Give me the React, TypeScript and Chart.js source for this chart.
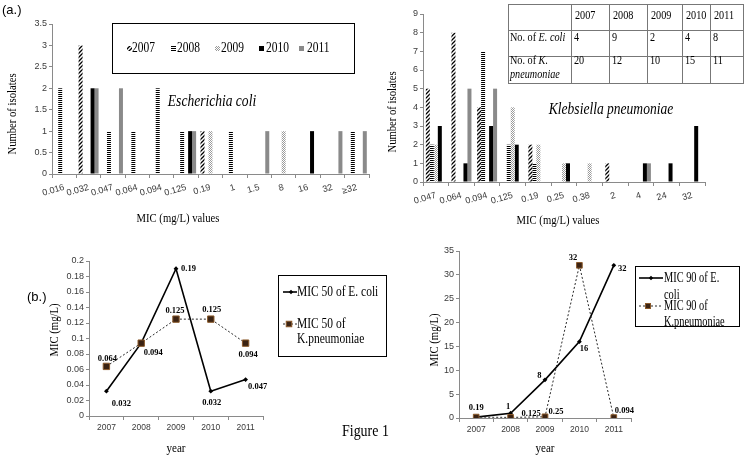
import React, { useEffect, useRef } from 'react';
import { Chart, registerables } from 'chart.js';

Chart.register(...registerables);

// ---------------- data ----------------
const years = ['2007', '2008', '2009', '2010', '2011'];

const ecoliMic = ['0.016', '0.032', '0.047', '0.064', '0.094', '0.125', '0.19', '1', '1.5', '8', '16', '32', '≥32'];
const ecoli2007 = [0, 3, 0, 0, 0, 0, 1, 0, 0, 0, 0, 0, 0];
const ecoli2008 = [2, 0, 1, 1, 2, 1, 0, 1, 0, 0, 0, 0, 1];
const ecoli2009 = [0, 0, 0, 0, 0, 0, 1, 0, 0, 1, 0, 0, 0];
const ecoli2010 = [0, 2, 0, 0, 0, 1, 0, 0, 0, 0, 1, 0, 0];
const ecoli2011 = [0, 2, 2, 0, 0, 1, 0, 0, 1, 0, 0, 1, 1];

const kpMic = ['0.047', '0.064', '0.094', '0.125', '0.19', '0.25', '0.38', '2', '4', '24', '32'];
const kp2007 = [5, 8, 4, 0, 2, 0, 0, 1, 0, 0, 0];
const kp2008 = [2, 0, 7, 2, 1, 0, 0, 0, 0, 0, 0];
const kp2009 = [2, 0, 0, 4, 2, 1, 1, 0, 0, 0, 0];
const kp2010 = [3, 1, 3, 2, 0, 1, 0, 0, 1, 1, 3];
const kp2011 = [0, 5, 5, 0, 0, 0, 0, 0, 1, 0, 0];

const ecoliCounts = [4, 9, 2, 4, 8];
const kpCounts = [20, 12, 10, 15, 11];

const mic50Ecoli = [0.032, 0.094, 0.19, 0.032, 0.047];
const mic50Kp = [0.064, 0.094, 0.125, 0.125, 0.094];
const mic90Ecoli = [0.19, 1, 8, 16, 32];
const mic90Kp = [0.19, 0.125, 0.25, 32, 0.094];

// label placement (pixel offsets from the point), null = no label
const mic50EcoliLabelPos: ([number, number] | null)[] = [[15, 13], [12, 10], [12.5, 0], [1, 12], [12, 7]];
const mic50KpLabelPos: ([number, number] | null)[] = [[1, -8], null, [-1, -8], [1, -9], [2.5, 12]];
const mic90EcoliLabelPos: ([number, number] | null)[] = [[0, -9.5], [-2.5, -6.5], [-5.7, -3.8], [4.6, 7.3], [8.5, 3]];
const mic90KpLabelPos: ([number, number] | null)[] = [null, [20.5, -3.4], [11, -5], [-6.4, -8], [10.6, -6.6]];

// ---------------- style ----------------
const W = 747;
const H = 456;
const SERIF = '"Liberation Serif", "Times New Roman", serif';
const SANS = '"Liberation Sans", Arial, sans-serif';
const AXIS = '#8a8a8a';
const TICK = '#3a3a3a';
const SQ = 0.82;

type TxtOpt = {
  size: number; weight?: string; style?: string; family?: string;
  align?: CanvasTextAlign; rot?: number; sx?: number; color?: string;
};

function txt(ctx: CanvasRenderingContext2D, s: string, x: number, y: number, o: TxtOpt) {
  ctx.save();
  ctx.translate(x, y);
  if (o.rot) ctx.rotate(o.rot);
  ctx.scale(o.sx ?? 1, 1);
  ctx.font = `${o.style || 'normal'} ${o.weight || 'normal'} ${o.size}px ${o.family || SERIF}`;
  ctx.fillStyle = o.color || '#000';
  ctx.textAlign = o.align || 'center';
  ctx.textBaseline = 'middle';
  ctx.fillText(s, 0, 0);
  ctx.restore();
}

function txtWidth(ctx: CanvasRenderingContext2D, s: string, o: TxtOpt) {
  ctx.save();
  ctx.font = `${o.style || 'normal'} ${o.weight || 'normal'} ${o.size}px ${o.family || SERIF}`;
  const w = ctx.measureText(s).width * (o.sx ?? 1);
  ctx.restore();
  return w;
}

function makePatterns() {
  const mk = (w: number, h: number, draw: (g: CanvasRenderingContext2D) => void) => {
    const c = document.createElement('canvas');
    c.width = w; c.height = h;
    const g = c.getContext('2d')!;
    draw(g);
    return g.createPattern(c, 'repeat')!;
  };
  const p2007 = mk(4, 4, (g) => {
    g.fillStyle = '#fff'; g.fillRect(0, 0, 4, 4);
    g.strokeStyle = '#000'; g.lineWidth = 1.3;
    g.beginPath();
    g.moveTo(0, 4); g.lineTo(4, 0);
    g.moveTo(-1, 1); g.lineTo(1, -1);
    g.moveTo(3, 5); g.lineTo(5, 3);
    g.stroke();
  });
  const p2008 = mk(4, 2, (g) => {
    g.fillStyle = '#fff'; g.fillRect(0, 0, 4, 2);
    g.fillStyle = '#000'; g.fillRect(0, 0, 4, 1);
  });
  const p2009 = mk(2, 2, (g) => {
    g.fillStyle = '#fff'; g.fillRect(0, 0, 2, 2);
    g.fillStyle = '#9a9a9a'; g.fillRect(0, 0, 1, 1); g.fillRect(1, 1, 1, 1);
  });
  return [p2007, p2008, p2009, '#000000', '#8a8a8a'] as (CanvasPattern | string)[];
}

type Area = { left: number; top: number; right: number; bottom: number };

const fmt = (v: any) => String(+(+v).toFixed(3));

function scaleBase(area: Area) {
  return {
    x: {
      offset: true,
      grid: { display: true, drawOnChartArea: false, drawTicks: true, tickLength: 4, color: AXIS, offset: true },
      border: { display: true, color: AXIS, width: 1 },
      afterFit: (s: any) => { s.height = H - area.bottom; },
    },
    y: {
      grid: { display: true, drawOnChartArea: false, drawTicks: true, tickLength: 3, color: AXIS },
      border: { display: true, color: AXIS, width: 1 },
      afterFit: (s: any) => { s.width = area.left; },
    },
  };
}

function barConfig(labels: string[], series: number[][], fills: any[], area: Area, yMax: number, yStep: number,
  catPct: number, overlay: any) {
  const base = scaleBase(area);
  return {
    type: 'bar',
    data: {
      labels,
      datasets: series.map((d, i) => ({
        label: years[i], data: d, backgroundColor: fills[i], borderWidth: 0,
        categoryPercentage: catPct, barPercentage: 1,
      })),
    },
    options: {
      responsive: false, animation: false, events: [],
      layout: { padding: { left: 0, top: area.top, right: W - area.right, bottom: 0 } },
      plugins: { legend: { display: false }, tooltip: { enabled: false }, title: { display: false } },
      scales: {
        x: {
          ...base.x,
          ticks: { autoSkip: false, minRotation: 16, maxRotation: 16, padding: 4, color: TICK, font: { family: SANS, size: 9 } },
        },
        y: {
          ...base.y, min: 0, max: yMax,
          ticks: { stepSize: yStep, padding: 2, color: TICK, font: { family: SANS, size: 9 }, callback: fmt },
        },
      },
    },
    plugins: [overlay],
  } as any;
}

function lineConfig(eco: number[], kp: number[], ecoLabel: string, kpLabel: string, area: Area, yMax: number, yStep: number,
  kpRadius: number, overlay: any) {
  const base = scaleBase(area);
  return {
    type: 'line',
    data: {
      labels: years,
      datasets: [
        {
          label: ecoLabel, data: eco, borderColor: '#000', borderWidth: 1.6, tension: 0,
          pointStyle: 'rectRot', pointRadius: 2.4, pointBackgroundColor: '#000', pointBorderWidth: 0, order: 1,
        },
        {
          label: kpLabel, data: kp, borderColor: '#2a2a2a', borderWidth: 1, borderDash: [2, 2], tension: 0,
          pointStyle: 'rect', pointRadius: kpRadius, pointBackgroundColor: '#3b2313', pointBorderColor: '#8b5a2b',
          pointBorderWidth: 1, order: 0,
        },
      ],
    },
    options: {
      responsive: false, animation: false, events: [],
      layout: { padding: { left: 0, top: area.top, right: W - area.right, bottom: 0 } },
      plugins: { legend: { display: false }, tooltip: { enabled: false }, title: { display: false } },
      scales: {
        x: {
          ...base.x,
          ticks: { autoSkip: false, maxRotation: 0, padding: 3, color: TICK, font: { family: SANS, size: 8.5 } },
        },
        y: {
          ...base.y, min: 0, max: yMax,
          ticks: { stepSize: yStep, padding: 2, color: TICK, font: { family: SANS, size: 9 }, callback: fmt },
        },
      },
    },
    plugins: [overlay],
  } as any;
}

function drawDataLabels(chart: any, pos: ([number, number] | null)[][]) {
  const ctx = chart.ctx as CanvasRenderingContext2D;
  chart.data.datasets.forEach((ds: any, i: number) => {
    const meta = chart.getDatasetMeta(i);
    meta.data.forEach((el: any, j: number) => {
      const p = pos[i][j];
      if (!p) return;
      txt(ctx, String(ds.data[j]), el.x + p[0], el.y + p[1], { size: 8.5, weight: 'bold' });
    });
  });
}

function legendDiamond(ctx: CanvasRenderingContext2D, x: number, y: number, r: number) {
  ctx.beginPath();
  ctx.moveTo(x, y - r); ctx.lineTo(x + r, y); ctx.lineTo(x, y + r); ctx.lineTo(x - r, y); ctx.closePath();
  ctx.fillStyle = '#000'; ctx.fill();
}
function legendSquare(ctx: CanvasRenderingContext2D, x: number, y: number, s: number) {
  ctx.fillStyle = '#3b2313'; ctx.fillRect(x - s / 2, y - s / 2, s, s);
  ctx.strokeStyle = '#8b5a2b'; ctx.lineWidth = 1; ctx.strokeRect(x - s / 2, y - s / 2, s, s);
}
function legendLine(ctx: CanvasRenderingContext2D, x1: number, x2: number, y: number, dashed: boolean) {
  ctx.save();
  ctx.strokeStyle = dashed ? '#2a2a2a' : '#000';
  ctx.lineWidth = dashed ? 1 : 1.6;
  ctx.setLineDash(dashed ? [2, 2] : []);
  ctx.beginPath(); ctx.moveTo(x1, y); ctx.lineTo(x2, y); ctx.stroke();
  ctx.restore();
}

// ---------------- charts ----------------
const areaEcoli: Area = { left: 52, top: 24, right: 369, bottom: 174 };
const areaKp: Area = { left: 423, top: 14, right: 705, bottom: 182 };
const areaMic50: Area = { left: 89, top: 261, right: 263, bottom: 416 };
const areaMic90: Area = { left: 459, top: 251, right: 631, bottom: 418 };

export default function App() {
  const r1 = useRef<HTMLCanvasElement>(null);
  const r2 = useRef<HTMLCanvasElement>(null);
  const r3 = useRef<HTMLCanvasElement>(null);
  const r4 = useRef<HTMLCanvasElement>(null);

  useEffect(() => {
    document.body.style.margin = '0';
    const fills = makePatterns();

    const ov1 = {
      id: 'ovEcoli',
      afterDraw(chart: any) {
        const ctx = chart.ctx as CanvasRenderingContext2D;
        txt(ctx, '(a.)', 2, 10, { size: 13, family: SANS, align: 'left' });
        txt(ctx, 'Number of isolates', 13, 114, { size: 13, rot: -Math.PI / 2, sx: SQ });
        txt(ctx, 'MIC (mg/L) values', 178, 219, { size: 13, sx: SQ });
        txt(ctx, 'Escherichia coli', 212, 102, { size: 16.5, style: 'italic', sx: SQ });
        ctx.save();
        ctx.strokeStyle = '#000'; ctx.lineWidth = 1;
        ctx.strokeRect(112.5, 23.5, 242, 50);
        const sw = [127, 171, 215, 259, 299];
        const tx = [132, 177, 221, 266, 307];
        chart.data.datasets.forEach((ds: any, i: number) => {
          ctx.fillStyle = ds.backgroundColor;
          ctx.fillRect(sw[i], 46, 5, 5);
          txt(ctx, ds.label, tx[i], 48.5, { size: 14, align: 'left', sx: SQ });
        });
        ctx.restore();
      },
    };

    const ov2 = {
      id: 'ovKp',
      afterDraw(chart: any) {
        const ctx = chart.ctx as CanvasRenderingContext2D;
        txt(ctx, 'Number of isolates', 393, 112, { size: 13, rot: -Math.PI / 2, sx: SQ });
        txt(ctx, 'MIC (mg/L) values', 558, 221, { size: 13, sx: SQ });
        txt(ctx, 'Klebsiella pneumoniae', 611, 110, { size: 16.5, style: 'italic', sx: SQ });
        // table
        const cols = [508, 571, 609, 647, 682, 710, 743];
        const rows = [4, 30, 56, 83];
        ctx.save();
        ctx.strokeStyle = '#777'; ctx.lineWidth = 1;
        ctx.beginPath();
        cols.forEach((c) => { ctx.moveTo(c + 0.5, rows[0]); ctx.lineTo(c + 0.5, rows[3] + 0.5); });
        rows.forEach((r) => { ctx.moveTo(cols[0], r + 0.5); ctx.lineTo(cols[6] + 1, r + 0.5); });
        ctx.stroke();
        ctx.restore();
        const f: TxtOpt = { size: 12, align: 'left', sx: 0.85 };
        const fi: TxtOpt = { ...f, style: 'italic' };
        years.forEach((y, i) => txt(ctx, y, cols[i + 1] + 4, 16, f));
        txt(ctx, 'No. of ', 510, 38, f);
        txt(ctx, 'E. coli', 510 + txtWidth(ctx, 'No. of ', f), 38, fi);
        txt(ctx, 'No. of ', 510, 61, f);
        txt(ctx, 'K.', 510 + txtWidth(ctx, 'No. of ', f), 61, fi);
        txt(ctx, 'pneumoniae', 510, 75, fi);
        ecoliCounts.forEach((v, i) => txt(ctx, String(v), cols[i + 1] + 3, 38, f));
        kpCounts.forEach((v, i) => txt(ctx, String(v), cols[i + 1] + 3, 61, f));
      },
    };

    const ov3 = {
      id: 'ovMic50',
      afterDraw(chart: any) {
        const ctx = chart.ctx as CanvasRenderingContext2D;
        txt(ctx, '(b.)', 27, 297, { size: 13, family: SANS, align: 'left' });
        txt(ctx, 'MIC (mg/L)', 55, 330, { size: 13, rot: -Math.PI / 2, sx: SQ });
        txt(ctx, 'year', 176, 448, { size: 13.5, sx: SQ });
        txt(ctx, 'Figure 1', 342, 432, { size: 17, align: 'left', sx: SQ });
        drawDataLabels(chart, [mic50EcoliLabelPos, mic50KpLabelPos]);
        ctx.save();
        ctx.strokeStyle = '#000'; ctx.lineWidth = 1;
        ctx.strokeRect(278.5, 275.5, 108, 81);
        ctx.restore();
        const lf: TxtOpt = { size: 14, align: 'left', sx: SQ };
        legendLine(ctx, 283, 297, 292, false);
        legendDiamond(ctx, 291, 292, 2.2);
        txt(ctx, chart.data.datasets[0].label, 297, 292, lf);
        legendLine(ctx, 283, 297, 324, true);
        legendSquare(ctx, 289, 324, 5.5);
        const kl = String(chart.data.datasets[1].label).split('\n');
        kl.forEach((s, i) => txt(ctx, s, 297, 324 + i * 15, lf));
      },
    };

    const ov4 = {
      id: 'ovMic90',
      afterDraw(chart: any) {
        const ctx = chart.ctx as CanvasRenderingContext2D;
        txt(ctx, 'MIC (mg/L)', 435, 340, { size: 13, rot: -Math.PI / 2, sx: SQ });
        txt(ctx, 'year', 545, 448, { size: 13.5, sx: SQ });
        drawDataLabels(chart, [mic90EcoliLabelPos, mic90KpLabelPos]);
        ctx.save();
        ctx.strokeStyle = '#000'; ctx.lineWidth = 1;
        ctx.strokeRect(635.5, 266.5, 104, 60);
        ctx.restore();
        const lf: TxtOpt = { size: 14, align: 'left', sx: 0.74 };
        legendLine(ctx, 639, 663, 278, false);
        legendDiamond(ctx, 651, 278, 2.2);
        String(chart.data.datasets[0].label).split('\n').forEach((s, i) => txt(ctx, s, 664, 278 + i * 17.5, lf));
        legendLine(ctx, 639, 663, 306, true);
        legendSquare(ctx, 648, 306, 5);
        String(chart.data.datasets[1].label).split('\n').forEach((s, i) => txt(ctx, s, 664, 306 + i * 16.5, lf));
      },
    };

    const charts = [
      new Chart(r1.current!, barConfig(ecoliMic, [ecoli2007, ecoli2008, ecoli2009, ecoli2010, ecoli2011], fills, areaEcoli, 3.5, 0.5, 0.82, ov1)),
      new Chart(r2.current!, barConfig(kpMic, [kp2007, kp2008, kp2009, kp2010, kp2011], fills, areaKp, 9, 1, 0.78, ov2)),
      new Chart(r3.current!, lineConfig(mic50Ecoli, mic50Kp, 'MIC 50 of E. coli', 'MIC 50 of\nK.pneumoniae', areaMic50, 0.2, 0.02, 4.5, ov3)),
      new Chart(r4.current!, lineConfig(mic90Ecoli, mic90Kp, 'MIC 90 of E.\ncoli', 'MIC 90 of\nK.pneumoniae', areaMic90, 35, 5, 4, ov4)),
    ];
    return () => charts.forEach((c) => c.destroy());
  }, []);

  const cs: React.CSSProperties = { position: 'absolute', left: 0, top: 0, width: W, height: H };
  return (
    <div style={{ position: 'relative', width: W, height: H, background: '#fff', overflow: 'hidden' }}>
      <canvas ref={r1} width={W} height={H} style={cs} />
      <canvas ref={r2} width={W} height={H} style={cs} />
      <canvas ref={r3} width={W} height={H} style={cs} />
      <canvas ref={r4} width={W} height={H} style={cs} />
    </div>
  );
}
